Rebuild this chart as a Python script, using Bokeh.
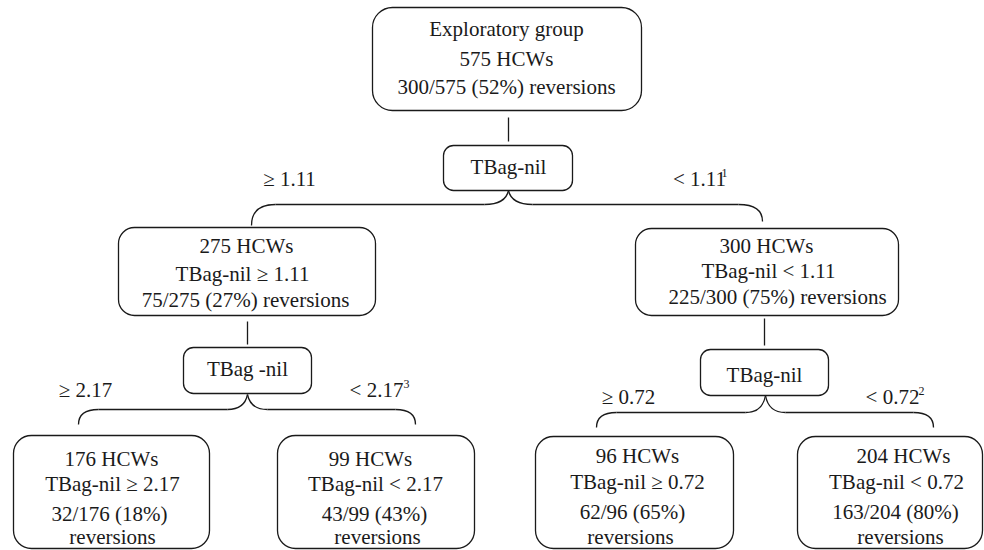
from bokeh.plotting import figure
from bokeh.models import Range1d, ColumnDataSource
from bokeh.core.properties import value
from bokeh.embed import file_html
from bokeh.resources import INLINE

# ---- diagram data (reference pixel coordinates) ----
# boxes: left, right, top, bottom, corner radius
box_left   = [372, 443, 118, 635, 183, 700, 13, 277, 535, 797]
box_right  = [641, 572, 375, 898, 311, 828, 209, 474, 733, 982]
box_top    = [7, 145, 227, 228, 347, 349, 435, 435, 436, 436]
box_bottom = [110, 190, 315, 315, 393, 395, 548, 548, 548, 548]
box_radius = [20, 10, 16, 16, 10, 10, 18, 18, 18, 18]

# text lines inside boxes (x centre, baseline y)
line_x = [506, 506, 506,
          508,
          246, 242, 245,
          766, 768, 777,
          247, 764,
          111, 112, 109, 112,
          370, 375, 374, 377,
          637, 637, 632, 630,
          903, 896, 895, 900]
line_y = [28, 58, 86,
          166,
          245, 273, 299,
          245, 270, 296,
          368, 374,
          458, 483, 513, 536,
          458, 483, 513, 536,
          455, 481, 511, 536,
          455, 481, 511, 536]
line_text = ["Exploratory group", "575 HCWs", "300/575 (52%) reversions",
             "TBag-nil",
             "275 HCWs", "TBag-nil \u2265 1.11", "75/275 (27%) reversions",
             "300 HCWs", "TBag-nil < 1.11", "225/300 (75%) reversions",
             "TBag -nil", "TBag-nil",
             "176 HCWs", "TBag-nil \u2265 2.17", "32/176 (18%)", "reversions",
             "99 HCWs", "TBag-nil < 2.17", "43/99 (43%)", "reversions",
             "96 HCWs", "TBag-nil \u2265 0.72", "62/96 (65%)", "reversions",
             "204 HCWs", "TBag-nil < 0.72", "163/204 (80%)", "reversions"]

# split labels
split_x = [289, 699, 85, 376, 628, 892]
split_y = [178, 178, 389, 389, 396, 396]
split_text = ["\u2265 1.11", "< 1.11", "\u2265 2.17", "< 2.17", "\u2265 0.72", "< 0.72"]

# footnote superscripts
sup_x = [721, 403, 918]
sup_y = [172, 383, 390]
sup_text = ["1", "3", "2"]

# vertical connectors
conn_x = [508, 247, 764]
conn_y0 = [117, 321, 318]
conn_y1 = [141, 344, 345]

# braces: cusp x, cusp y, horizontal y, left end x, left end y, right end x, right end y
br_cx = [508, 247, 765]
br_cy = [190, 394, 395]
br_my = [204, 409, 412]
br_lx = [251, 78, 596]
br_ly = [225, 424, 427]
br_rx = [762, 415, 933]
br_ry = [221, 424, 427]
br_curve = [24, 20, 20]

FONT = value("Liberation Serif")
INK = "#1a1a1a"

p = figure(width=984, height=550, output_backend="svg", toolbar_location=None,
           x_range=Range1d(0, 984), y_range=Range1d(550, 0),
           min_border=0)
p.axis.visible = False
p.grid.visible = False
p.outline_line_color = None
p.background_fill_color = "white"
p.border_fill_color = "white"

for r in sorted(set(box_radius)):
    idx = [i for i, v in enumerate(box_radius) if v == r]
    p.quad(left=[box_left[i] for i in idx], right=[box_right[i] for i in idx],
           top=[box_top[i] for i in idx], bottom=[box_bottom[i] for i in idx],
           border_radius=r, fill_color="white", line_color=INK, line_width=1.3)

p.segment(x0=conn_x, y0=conn_y0, x1=conn_x, y1=conn_y1, line_color=INK, line_width=1.3)

# braces
c = br_curve
qx0, qy0, qx1, qy1, qcx, qcy = [], [], [], [], [], []
sx0, sy0, sx1, sy1 = [], [], [], []
for i in range(len(br_cx)):
    cx, cy, my = br_cx[i], br_cy[i], br_my[i]
    qx0 += [cx, cx]; qy0 += [cy, cy]
    qx1 += [cx - c[i], cx + c[i]]; qy1 += [my, my]
    qcx += [cx - 3, cx + 3]; qcy += [my, my]
    qx0 += [br_lx[i] + c[i], br_rx[i] - c[i]]; qy0 += [my, my]
    qx1 += [br_lx[i], br_rx[i]]; qy1 += [br_ly[i], br_ry[i]]
    qcx += [br_lx[i], br_rx[i]]; qcy += [my, my]
    sx0 += [br_lx[i] + c[i], cx + c[i]]; sy0 += [my, my]
    sx1 += [cx - c[i], br_rx[i] - c[i]]; sy1 += [my, my]
p.quadratic(x0=qx0, y0=qy0, x1=qx1, y1=qy1, cx=qcx, cy=qcy, line_color=INK, line_width=1.3)
p.segment(x0=sx0, y0=sy0, x1=sx1, y1=sy1, line_color=INK, line_width=1.3)

src = ColumnDataSource(dict(x=line_x, y=line_y, t=line_text))
p.text(x="x", y="y", text="t", source=src, text_font=FONT, text_font_size="21px",
       text_align="center", text_baseline="alphabetic", text_color=INK)

src2 = ColumnDataSource(dict(x=split_x, y=split_y, t=split_text))
p.text(x="x", y="y", text="t", source=src2, text_font=FONT, text_font_size="21px",
       text_align="center", text_baseline="alphabetic", text_color=INK)

src3 = ColumnDataSource(dict(x=sup_x, y=sup_y, t=sup_text))
p.text(x="x", y="y", text="t", source=src3, text_font=FONT, text_font_size="12px",
       text_align="left", text_baseline="alphabetic", text_color=INK)

open("out.html", "w").write(file_html(p, INLINE))
